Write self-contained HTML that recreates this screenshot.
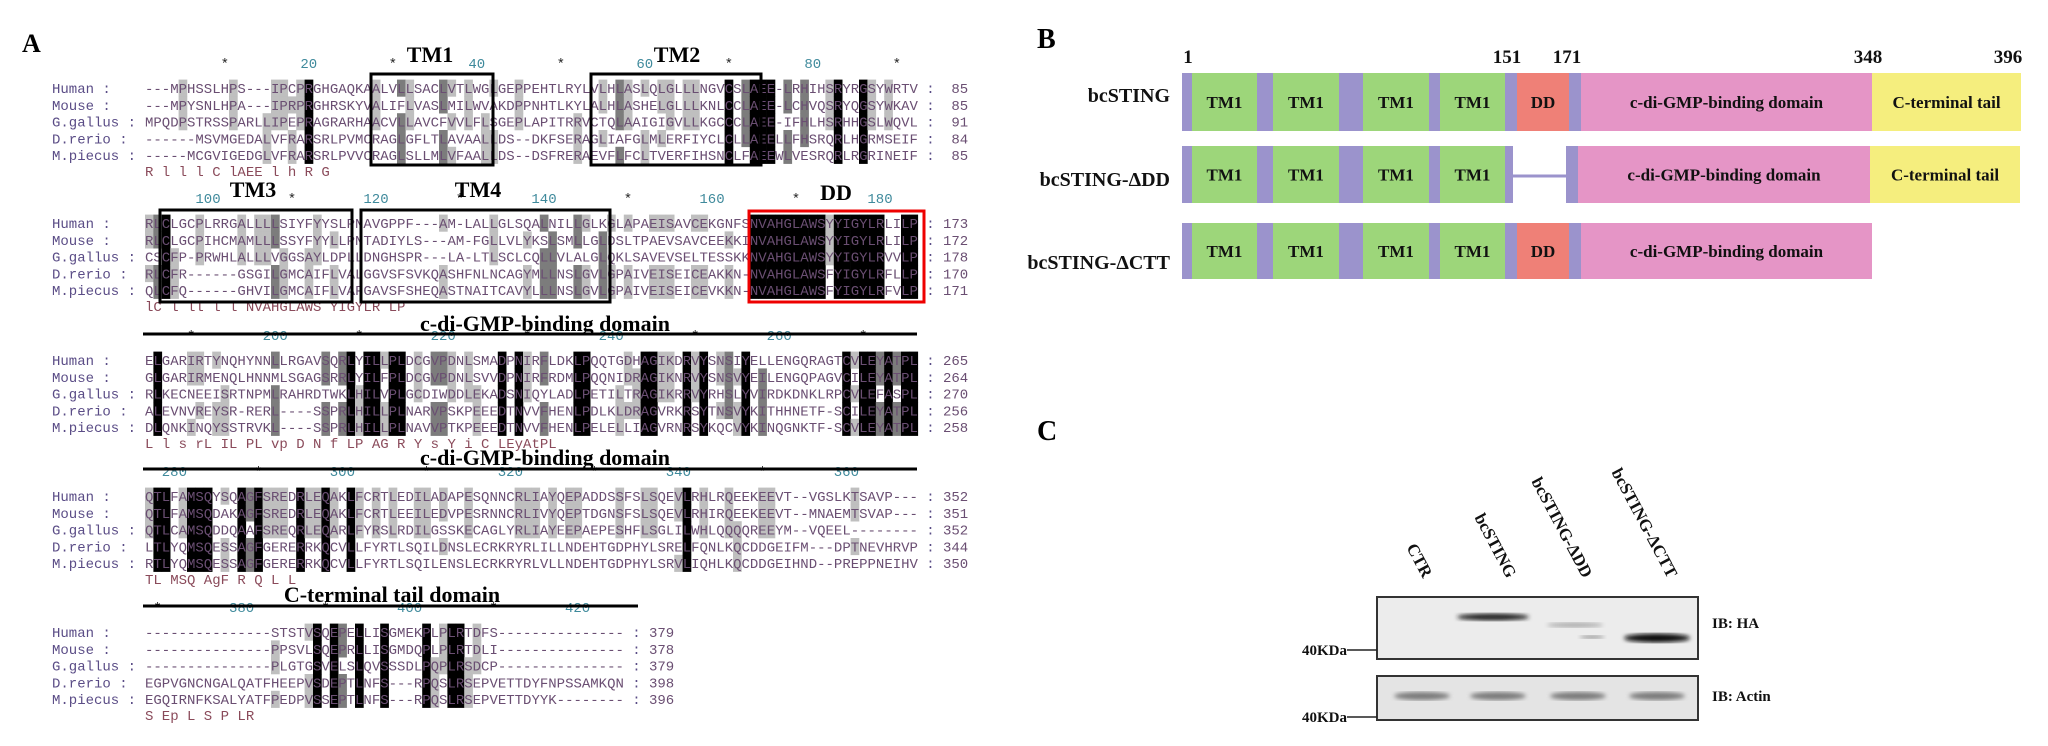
<!DOCTYPE html>
<html><head><meta charset="utf-8"><style>
html,body{margin:0;padding:0;background:#fff;width:2048px;height:746px;overflow:hidden}
svg{position:absolute;left:0;top:0}
.ser{font-family:"Liberation Serif",serif;font-weight:bold}
.mono{font-family:"Liberation Mono",monospace;font-size:14px}
</style></head><body>
<svg id="fig" width="2048" height="746" viewBox="0 0 2048 746">
  <text class="ser" x="22" y="52" font-size="26">A</text>
  <g id="align"></g>

  <text class="ser" x="1037" y="48" font-size="28">B</text>
  <g id="domains"></g>

  <text class="ser" x="1037" y="440" font-size="28">C</text>
  <g id="blot"></g>
</svg>
<script>
const NS="http://www.w3.org/2000/svg";
function el(tag,attrs,parent,txt){const e=document.createElementNS(NS,tag);for(const k in attrs)e.setAttribute(k,attrs[k]);if(txt!==undefined)e.textContent=txt;parent.appendChild(e);return e;}

const speciesNames=["Human","Mouse","G.gallus","D.rerio","M.piecus"];
const block1Seqs=[
"---MPHSSLHPS---IPCPRGHGAQKAALVLLSACLVTLWGLGEPPEHTLRYLVLHLASLQLGLLLNGVCSLAEE-LRHIHSRYRGSYWRTV",
"---MPYSNLHPA---IPRPRGHRSKYVALIFLVASLMILWVAKDPPNHTLKYLALHLASHELGLLLKNLCCLAEE-LCHVQSRYQGSYWKAV",
"MPQDPSTRSSPARLLIPEPRAGRARHAACVLLAVCFVVLFLSGEPLAPITRRVCTQLAAIGIGVLLKGCCCLAEE-IFHLHSRHHGSLWQVL",
"------MSVMGEDALVFRARSRLPVMCRAGLGFLTLAVAALLDS--DKFSERAGLIAFGLMLERFIYCLCLLAEELLFHSRQRLHGRMSEIF",
"-----MCGVIGEDGLVFRARSRLPVVCRAGLSLLMLVFAALLDS--DSFRERAEVFLFCLTVERFIHSNCLFAEEWLVESRQRLRGRINEIF"];
const block1Ends=[85,85,91,84,85];
const block2Pre=[
"RLCLGCPLRRGALLLLSIYFYYSLPNAVGPPF---AM-LALLGLSQALNILLGLKGLAPAEISAVCEKGNFS",
"RLCLGCPIHCMAMLLLSSYFYYLLPNTADIYLS---AM-FGLLVLYKSLSMLLGLDSLTPAEVSAVCEEKKI",
"CSCFP-PRWHLALLLVGGSAYLDPLLDNGHSPR---LA-LTLSCLCQLLVLALGLQKLSAVEVSELTESSKK",
"RLCFR------GSGILGMCAIFLVALGGVSFSVKQASHFNLNCAGYMLLNSLGVLGPAIVEISEICEAKKN",
"QLCFQ------GHVILGMCAIFLVAFGAVSFSHEQASTNAITCAVYLLLNSLGVLGPAIVEISEICEVKKN"];
const block2DD=["NVAHGLAWSYYIGYLRLILP","NVAHGLAWSYYIGYLRLILP","NVAHGLAWSYYIGYLRVVLP","NVAHGLAWSFYIGYLRFLLP","NVAHGLAWSFYIGYLRFVLP"];
const block2Ends=[173,172,178,170,171];
const block3Seqs=[
"ELGARIRTYNQHYNNLLRGAVSQRLYILLPLDCGVPDNLSMADPNIRFLDKLPQQTGDHAGIKDRVYSNSIYELLENGQRAGTCVLEYATPL",
"GLGARIRMENQLHNNMLSGAGSRRLYILFPLDCGVPDNLSVVDPNIRFRDMLPQQNIDRAGIKNRVYSNSVYEILENGQPAGVCILEYATPL",
"RLKECNEEISRTNPMLRAHRDTWKLHILVPLGCDIWDDLEKADSNIQYLADLPETILTRAGIKRRVYRHSLYVIRDKDNKLRPCVLEFASPL",
"ALEVNVREYSR-RERL----SSPRLHILLPLNARVPSKPEEEDTNVVFHENLPDLKLDRAGVRKRSYTNSVYKITHHNETF-SCILEYATPL",
"DLQNKINQYSSTRVKL----SSPRLHILLPLNAVVPTKPEEEDTNVVFHENLPELELLIAGVRNRSYKQCVYKINQGNKTF-SCVLEYATPL"];
const block3Ends=[265,264,270,256,258];
const block4Seqs=[
"QTLFAMSQYSQAGFSREDRLEQAKLFCRTLEDILADAPESQNNCRLIAYQEPADDSSFSLSQEVLRHLRQEEKEEVT--VGSLKTSAVP---",
"QTLFAMSQDAKAGFSREDRLEQAKLFCRTLEEILEDVPESRNNCRLIVYQEPTDGNSFSLSQEVLRHIRQEEKEEVT--MNAEMTSVAP---",
"QTLCAMSQDDQAAFSREQRLEQARLFYRSLRDILGSSKECAGLYRLIAYEEPAEPESHFLSGLILWHLQQQQREEYM--VQEEL--------",
"LTLYQMSQESSAGFGERERRKQCVLLFYRTLSQILDNSLECRKRYRLILLNDEHTGDPHYLSRELFQNLKQCDDGEIFM---DPTNEVHRVPE",
"RTLYQMSQESSAGFGERERRKQCVLLFYRTLSQILENSLECRKRYRLVLLNDEHTGDPHYLSRVLIQHLKQCDDGEIHND--PREPPNEIHVPE"];
const block4Ends=[352,351,352,344,350];
const block5Seqs=[
"---------------STSTVSQEPELLISGMEKPLPLRTDFS---------------",
"---------------PPSVLSQEPRLLISGMDQPLPLRTDLI---------------",
"---------------PLGTGSVELSLQVSSSDLPQPLRSDCP---------------",
"EGPVGNCNGALQATFHEEPVSDEPTLNFS---RPQSLRSEPVETTDYFNPSSAMKQN",
"EGQIRNFKSALYATFPEDPVSSEPTLNFS---RPQSLRSEPVETTDYYK--------"];
const block5Ends=[379,378,379,398,396];

const X0=145,CW=8.4,RH=16.8;
const A=document.getElementById('align');

function drawBlock(seqs,ends,startCol,top,len,nameTag){
  const g=el('g',{},A);
  
  
  const rows=seqs.map(s=>(s+'-'.repeat(len)).slice(0,len));
  let cons='';
  for(let c=0;c<len;c++){
    const cnt={};rows.forEach(r=>{const ch=r[c];if(ch!=='-')cnt[ch]=(cnt[ch]||0)+1;});
    let best='',m=0;for(const k in cnt)if(cnt[k]>m){m=cnt[k];best=k;}
    const fill=m>=5?'#000':m===4?'#7c7c7c':m===3?'#bfbfbf':null;
    if(fill){rows.forEach((r,i)=>{if(r[c]===best){
      const rc=el('rect',{x:X0+c*CW,y:top-RH/2+i*RH,width:CW+0.3,height:RH+0.3,fill:fill},g);
      
      
    }});}
    cons+= m>=5?best:(m===4?best.toLowerCase():' ');
    const colNum=startCol+c;
    if(colNum%10===0){
      const t=el('text',{x:X0+c*CW+CW/2,y:top-RH-3,'text-anchor':'middle',class:'mono',fill:colNum%20===0?'#3f8a9c':'#222'},g,colNum%20===0?String(colNum):'*');
      
      
    }
  }
  rows.forEach((r,i)=>{
    const y=top+i*RH+5;
    const n=el('text',{x:52,y:y,class:'mono',fill:'#5a4c86','xml:space':'preserve'},g,speciesNames[i].padEnd(9)+':');
    
    
    const s=el('text',{x:X0,y:y,class:'mono',fill:'#6a4e72'},g,r);
    
    
    const c1=el('text',{x:X0+(len+1)*CW,y:y,class:'mono',fill:'#5a4c86'},g,':');
    
    
    const e=el('text',{x:X0+(len+6)*CW,y:y,'text-anchor':'end',class:'mono',fill:'#6a4e72'},g,String(ends[i]));
    
    
  });
  const ct=el('text',{x:X0,y:top+5*RH+4,class:'mono',fill:'#8a4a5a','xml:space':'preserve'},g,cons);
  
  
}
drawBlock(block1Seqs,block1Ends,1,88,92,'alignment-block-1');
drawBlock(block2Pre.map((p,i)=>(p+'-'.repeat(72)).slice(0,72)+block2DD[i]),block2Ends,93,223,92,'alignment-block-2');
drawBlock(block3Seqs,block3Ends,185,360,92,'alignment-block-3');
drawBlock(block4Seqs,block4Ends,277,496,92,'alignment-block-4');
drawBlock(block5Seqs,block5Ends,369,632,57,'alignment-block-5');

function box(x1,y1,x2,y2,col,name){const r=el('rect',{x:x1,y:y1,width:x2-x1,height:y2-y1,fill:'none',stroke:col,'stroke-width':3},A);
  
  }
box(371,74,493,165,'#000','tm1-box');
box(591,74,761,165,'#000','tm2-box');
box(160,210,352,302,'#000','tm3-box');
box(361,210,610,302,'#000','tm4-box');
box(749,211,924,302,'#e00','dd-box');
function title(x,y,t,size,name){const e=el('text',{x:x,y:y,'text-anchor':'middle',class:'ser','font-size':size,fill:'#000'},A,t);
  
  }
title(430,62,'TM1',22,'tm1-title');title(677,62,'TM2',22,'tm2-title');
title(253,197,'TM3',22,'tm3-title');title(478,197,'TM4',22,'tm4-title');title(836,200,'DD',22,'dd-title');
title(545,331,'c-di-GMP-binding domain',22,'cdg-domain-title-1');
title(545,465,'c-di-GMP-binding domain',22,'cdg-domain-title-2');
title(392,602,'C-terminal tail domain',22,'ctt-domain-title');
function hline(x1,x2,y,name){const l=el('line',{x1:x1,x2:x2,y1:y,y2:y,stroke:'#000','stroke-width':3},A);
  
  }
hline(143,917,334,'cdg-domain-line-1');hline(143,917,469,'cdg-domain-line-2');hline(143,638,606,'ctt-domain-line');

const D=document.getElementById('domains');
const PUR='#9b93cc',GRN='#9dd67a',RED='#ef8077',PNK='#e595c6',YEL='#f5ee7e';
const constructNames=["bcSTING","bcSTING-\u0394DD","bcSTING-\u0394CTT"];
const rowTops=[73,146,223];
const rowH=[58,57,56];
const labelY=[102,186,269];
function seg(x1,x2,y,h,fill,label,name){
  const r=el('rect',{x:x1,y:y,width:x2-x1,height:h,fill:fill},D);
  
  
  if(label){const t=el('text',{x:(x1+x2)/2,y:y+h/2+6,'text-anchor':'middle',class:'ser','font-size':17,fill:'#111'},D,label);
    
    }
}
rowTops.forEach((y,i)=>{
  const h=rowH[i];
  const lab=el('text',{x:1170,y:labelY[i],'text-anchor':'end',class:'ser','font-size':20,fill:'#111'},D,constructNames[i]);
  
  
  seg(1182,1192,y,h,PUR,null,'linker');
  seg(1192,1257,y,h,GRN,'TM1','tm-segment');
  seg(1257,1273,y,h,PUR,null,'linker');
  seg(1273,1339,y,h,GRN,'TM1','tm-segment');
  seg(1339,1363,y,h,PUR,null,'linker');
  seg(1363,1429,y,h,GRN,'TM1','tm-segment');
  seg(1429,1440,y,h,PUR,null,'linker');
  seg(1440,1505,y,h,GRN,'TM1','tm-segment');
  if(i===1){
    seg(1505,1513,y,h,PUR,null,'linker');
    const l=el('line',{x1:1513,x2:1567,y1:y+30,y2:y+30,stroke:PUR,'stroke-width':3},D);
    
    
    seg(1566,1578,y,h,PUR,null,'linker');
    seg(1578,1870,y,h,PNK,'c-di-GMP-binding domain','cdg-domain');
    seg(1870,2020,y,h,YEL,'C-terminal tail','c-terminal-tail');
  } else {
    seg(1505,1517,y,h,PUR,null,'linker');
    seg(1517,1569,y,h,RED,'DD','dd-domain');
    seg(1569,1581,y,h,PUR,null,'linker');
    seg(1581,1872,y,h,PNK,'c-di-GMP-binding domain','cdg-domain');
    if(i===0) seg(1872,2021,y,h,YEL,'C-terminal tail','c-terminal-tail');
  }
});
const posLabels=["1","151","171","348","396"];
const posX=[1188,1507,1567,1868,2008];
posLabels.forEach((p,i)=>{const t=el('text',{x:posX[i],y:63,'text-anchor':'middle',class:'ser','font-size':19,fill:'#111'},D,p);
  
  });

const B=document.getElementById('blot');
const laneNames=["CTR","bcSTING","bcSTING-\u0394DD","bcSTING-\u0394CTT"];
const laneX=[1423,1507,1583,1668];
laneNames.forEach((n,i)=>{const t=el('text',{x:laneX[i],y:579,'text-anchor':'end',class:'ser','font-size':17,fill:'#111',transform:`rotate(62 ${laneX[i]} 579)`},B,n);
  
  });
const defs=el('defs',{},B);
const f=el('filter',{id:'blur'},defs);el('feGaussianBlur',{stdDeviation:2},f);
const g1=el('rect',{x:1377,y:597,width:321,height:62,fill:'#ececec',stroke:'#333','stroke-width':2},B);


const g2=el('rect',{x:1377,y:676,width:321,height:44,fill:'#e4e4e4',stroke:'#333','stroke-width':2},B);


const haBands=[[1493,617,72,7,'#222'],[1575,625,56,5,'#aaa'],[1592,637,25,3,'#888'],[1657,638,66,9,'#111']];
haBands.forEach(b=>{const e=el('ellipse',{cx:b[0],cy:b[1],rx:b[2]/2,ry:b[3]/2,fill:b[4],filter:'url(#blur)'},B);
  
  });
const actinX=[1422,1498,1578,1657];
actinX.forEach(x=>{const e=el('ellipse',{cx:x,cy:696,rx:28,ry:4,fill:'#7a7a7a',filter:'url(#blur)'},B);
  
  });
[[650,'40KDa'],[717,'40KDa']].forEach(m=>{
  const t=el('text',{x:1347,y:m[0]+5,'text-anchor':'end',class:'ser','font-size':15,fill:'#111'},B,m[1]);
  
  
  const l=el('line',{x1:1347,x2:1377,y1:m[0],y2:m[0],stroke:'#222','stroke-width':1.5},B);
  
  
});
const ib1=el('text',{x:1712,y:628,class:'ser','font-size':15,fill:'#111'},B,'IB: HA');


const ib2=el('text',{x:1712,y:701,class:'ser','font-size':15,fill:'#111'},B,'IB: Actin');


</script>
</body></html>
